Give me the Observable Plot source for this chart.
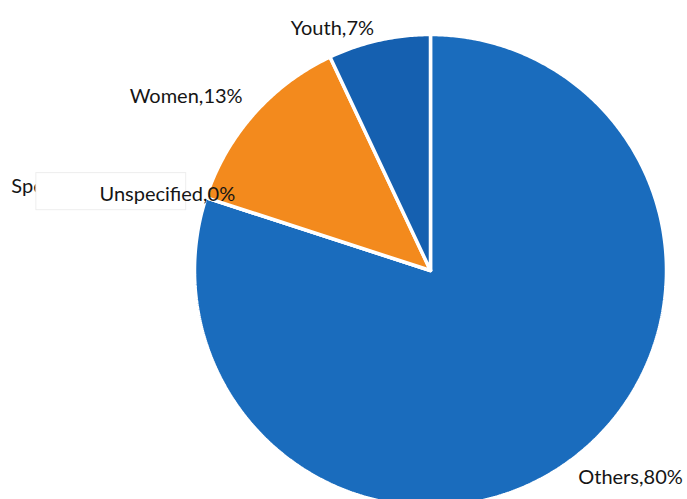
<!DOCTYPE html>
<html>
<head>
<meta charset="utf-8">
<script src="https://cdn.jsdelivr.net/npm/d3@7"></script>
<script src="https://cdn.jsdelivr.net/npm/@observablehq/plot@0.6"></script>
<style>
  html, body { margin: 0; padding: 0; background: #fff; }
  #chart { width: 687px; height: 499px; overflow: hidden; }
</style>
</head>
<body>
<div id="chart"></div>
<script>
// ---- data ----
const categories = ["Others", "Unspecified", "Women", "Youth"];
const shares = [80, 0, 13, 7];
const sliceColors = ["#1a6cbd", "#1a6cbd", "#f38a1d", "#1560b0"];
const hiddenLabelText = "Spe"; // partly covered label at the far left

// label placement: radius (in pie radii) and angle shift (deg) from slice middle
const labelRadius = [1.22, 1.16, 1.27, 1.105];
const labelShift = [-8, -2, -6, -9.5];

// ---- geometry built from the values ----
const total = d3.sum(shares);
let acc = 0;
const slices = categories.map((c, i) => {
  const a0 = acc / total * 2 * Math.PI;
  acc += shares[i];
  const a1 = acc / total * 2 * Math.PI;
  return {category: c, value: shares[i], a0, a1, i};
});

const outline = [];
for (const s of slices) {
  outline.push({category: s.category, x: 0, y: 0});
  const n = Math.max(2, Math.ceil((s.a1 - s.a0) / (Math.PI / 360)));
  for (let k = 0; k <= n; k++) {
    const a = s.a0 + (s.a1 - s.a0) * k / n;
    outline.push({category: s.category, x: Math.sin(a), y: Math.cos(a)});
  }
  outline.push({category: s.category, x: 0, y: 0});
}

const labels = slices.map(s => {
  const a = (s.a0 + s.a1) / 2 + labelShift[s.i] * Math.PI / 180;
  const r = labelRadius[s.i];
  return {text: `${s.category},${s.value}%`, x: r * Math.sin(a), y: r * Math.cos(a)};
});
const unspec = labels[1];
const coverBox = [{x1: unspec.x - 0.555, x2: unspec.x + 0.08, y1: unspec.y - 0.064, y2: unspec.y + 0.093}];
const hidden = [{text: hiddenLabelText, x: unspec.x - 0.661, y: unspec.y + 0.034}];

const chart = Plot.plot({
  width: 687,
  height: 499,
  margin: 0,
  x: {domain: [-1.822, 1.089], axis: null},
  y: {domain: [-0.970, 1.144], axis: null},
  color: {domain: categories, range: sliceColors},
  style: {fontFamily: "Lato, 'Noto Sans', sans-serif", background: "#fff"},
  marks: [
    Plot.line(outline, {x: "x", y: "y", z: "category", fill: "category", stroke: "white", strokeWidth: 3.5, strokeLinejoin: "miter"}),
    Plot.text(hidden, {x: "x", y: "y", text: "text", textAnchor: "start", fontSize: 20, fill: "#151515"}),
    Plot.rect(coverBox, {x1: "x1", x2: "x2", y1: "y1", y2: "y2", fill: "white", stroke: "#eeeeee", strokeWidth: 1}),
    Plot.text(labels, {x: "x", y: "y", text: "text", fontSize: 20, fill: "#151515"})
  ]
});
document.getElementById("chart").appendChild(chart);
</script>
</body>
</html>
